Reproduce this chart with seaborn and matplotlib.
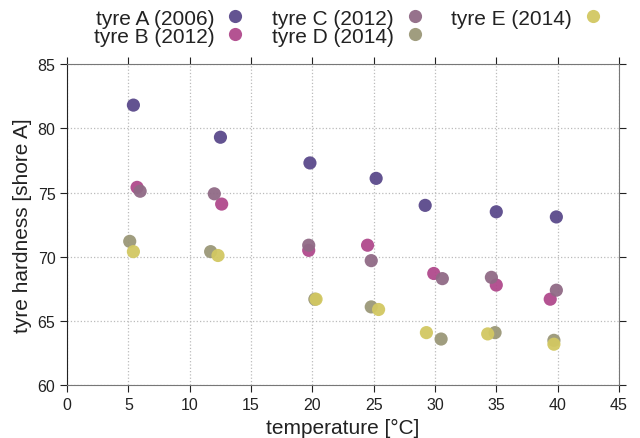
import pandas as pd
import seaborn as sns
import matplotlib
import matplotlib.pyplot as plt

# temperatures [°C] and hardness [shore A] per tyre
temp_a = [5.4, 12.5, 19.8, 25.2, 29.2, 35.0, 39.9]
hard_a = [81.8, 79.3, 77.3, 76.1, 74.0, 73.5, 73.1]

temp_b = [5.7, 12.6, 19.7, 24.5, 29.9, 35.0, 39.4]
hard_b = [75.4, 74.1, 70.5, 70.9, 68.7, 67.8, 66.7]

temp_c = [5.95, 12.0, 19.7, 24.8, 30.6, 34.6, 39.9]
hard_c = [75.1, 74.9, 70.9, 69.7, 68.3, 68.4, 67.4]

temp_d = [5.1, 11.7, 20.2, 24.8, 30.5, 34.9, 39.7]
hard_d = [71.2, 70.4, 66.7, 66.1, 63.6, 64.1, 63.5]

temp_e = [5.4, 12.3, 20.3, 25.4, 29.3, 34.3, 39.7]
hard_e = [70.4, 70.1, 66.7, 65.9, 64.1, 64.0, 63.2]

tyres = ["tyre A (2006)", "tyre B (2012)", "tyre C (2012)", "tyre D (2014)", "tyre E (2014)"]
colors = ["#5b4a8b", "#b04a8c", "#906a86", "#9b9878", "#d2c862"]

frames = []
for name, t, h in zip(tyres, [temp_a, temp_b, temp_c, temp_d, temp_e],
                      [hard_a, hard_b, hard_c, hard_d, hard_e]):
    frames.append(pd.DataFrame({"temperature": t, "hardness": h, "tyre": name}))
df = pd.concat(frames, ignore_index=True)

sns.set_style("ticks")
matplotlib.rcParams["font.family"] = ["Liberation Sans", "DejaVu Sans"]
matplotlib.rcParams["xtick.direction"] = "out"
matplotlib.rcParams["ytick.direction"] = "out"

fig = plt.figure(figsize=(6.4, 4.39), dpi=100)
ax = fig.add_axes([0.105, 0.12, 0.862, 0.732])

sns.scatterplot(data=df, x="temperature", y="hardness", hue="tyre", hue_order=tyres,
                palette=colors, s=90, alpha=0.95, linewidth=0, ax=ax)

ax.set_xlim(0, 45)
ax.set_ylim(60, 85)
ax.set_xticks(range(0, 46, 5))
ax.set_yticks(range(60, 86, 5))
ax.grid(True, linestyle=":", color="#bbbbbb", linewidth=0.9)
ax.set_axisbelow(True)

ax.tick_params(axis="both", labelsize=11.5, colors="#222222", length=5,
               top=True, right=True, labeltop=False, labelright=False)
for side in ["top", "right", "bottom"]:
    ax.spines[side].set_color("#777777")
ax.spines["left"].set_color("#222222")

ax.set_xlabel("temperature [°C]", fontsize=15, color="#222222")
ax.set_ylabel("tyre hardness [shore A]", fontsize=15, color="#222222")

leg = ax.legend(loc="lower center", bbox_to_anchor=(0.51, 1.057), ncol=3, frameon=False,
                markerfirst=False, fontsize=15, labelspacing=-0.05, columnspacing=1.25,
                handletextpad=0.5, handlelength=1.0, borderaxespad=0.0, borderpad=0.0)
for txt in leg.get_texts():
    txt.set_color("#222222")
    txt.set_horizontalalignment("left")

fig.savefig("out.png", dpi=100)
